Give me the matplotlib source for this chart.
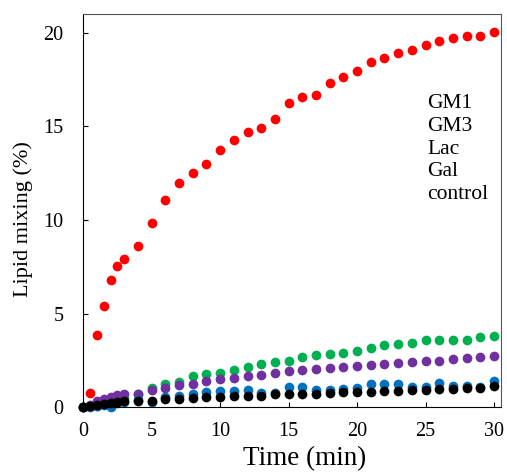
import matplotlib
matplotlib.use("Agg")
import matplotlib.pyplot as plt

plt.rcParams["font.family"] = ["Liberation Serif", "DejaVu Serif"]

## Data
time = [0, 0.5, 1, 1.5, 2, 2.5, 3, 4, 5, 6, 7, 8, 9, 10, 11, 12, 13, 14, 15,
        16, 17, 18, 19, 20, 21, 22, 23, 24, 25, 26, 27, 28, 29, 30]

gm1 = [0, 0.77, 3.86, 5.41, 6.78, 7.54, 7.94, 8.63, 9.84, 11.05, 11.98, 12.53,
       13.02, 13.77, 14.27, 14.68, 14.91, 15.41, 16.28, 16.6, 16.67, 17.33,
       17.62, 17.99, 18.42, 18.67, 18.93, 19.07, 19.38, 19.56, 19.73, 19.82,
       19.86, 20.04]
gm3 = [0, 0.05, 0.08, 0.18, 0.28, 0.38, 0.48, 0.72, 1.05, 1.23, 1.33, 1.64,
       1.76, 1.85, 1.99, 2.17, 2.33, 2.40, 2.49, 2.67, 2.79, 2.83, 2.92, 3.02,
       3.15, 3.31, 3.40, 3.45, 3.58, 3.61, 3.58, 3.61, 3.74, 3.79]
lac = [0, 0.1, 0.32, 0.43, 0.52, 0.64, 0.73, 0.73, 0.91, 1.0, 1.16, 1.26,
       1.41, 1.48, 1.57, 1.65, 1.74, 1.83, 1.92, 1.98, 2.06, 2.10, 2.14, 2.19,
       2.26, 2.33, 2.38, 2.42, 2.49, 2.49, 2.58, 2.63, 2.67, 2.72]
gal = [0, 0.03, 0.05, 0.1, 0.0, 0.2, 0.3, 0.4, 0.25, 0.55, 0.59, 0.73, 0.82,
       0.87, 0.87, 0.91, 0.77, 0.77, 1.09, 1.09, 0.91, 0.91, 0.96, 1.0, 1.23,
       1.23, 1.23, 1.09, 1.09, 1.3, 1.14, 1.14, 1.09, 1.41]
control = [0, 0.07, 0.14, 0.16, 0.2, 0.27, 0.32, 0.32, 0.34, 0.41, 0.44, 0.5,
           0.52, 0.57, 0.59, 0.6, 0.62, 0.69, 0.71, 0.73, 0.71, 0.77, 0.82,
           0.8, 0.8, 0.84, 0.87, 0.91, 0.91, 0.98, 0.98, 1.0, 1.03, 1.12]

labels = ["GM1", "GM3", "Lac", "Gal", "control"]
series = [gm1, gm3, lac, gal, control]
colors = ["#ff0000", "#00b050", "#7030a0", "#0070c0", "#000000"]

fig = plt.figure(figsize=(5.07, 4.74), dpi=100)
ax = fig.add_axes([0.164, 0.141, 0.824, 0.829])

for vals, lab, col in zip(series, labels, colors):
    ax.plot(time, vals, "o", color=col, markersize=7, markeredgewidth=0,
            label=lab, clip_on=False)

ax.set_xlim(0, 30.5)
ax.set_ylim(0, 21)
ax.set_xticks([0, 5, 10, 15, 20, 25, 30])
ax.set_yticks([0, 5, 10, 15, 20])
ax.tick_params(direction="in", length=3.6, width=0.8, labelsize=14.5)
ax.tick_params(axis="y", pad=14)
ax.tick_params(axis="x", pad=11)

ax.spines["top"].set_color("#555555")
ax.spines["right"].set_color("#555555")

ax.set_xlabel("Time (min)", fontsize=19.5)
ax.set_ylabel("Lipid mixing (%)", fontsize=16)
ax.xaxis.set_label_coords(0.53, -0.099)
ax.yaxis.set_label_coords(-0.12, 0.478)

# legend shows only the names
leg = ax.legend(loc="upper left", bbox_to_anchor=(0.824, 0.80), frameon=False,
                fontsize=15.5, handlelength=0, handletextpad=0,
                labelspacing=0.13, borderpad=0, borderaxespad=0)
for h in leg.legend_handles:
    h.set_visible(False)

fig.savefig("out.png", dpi=100)
